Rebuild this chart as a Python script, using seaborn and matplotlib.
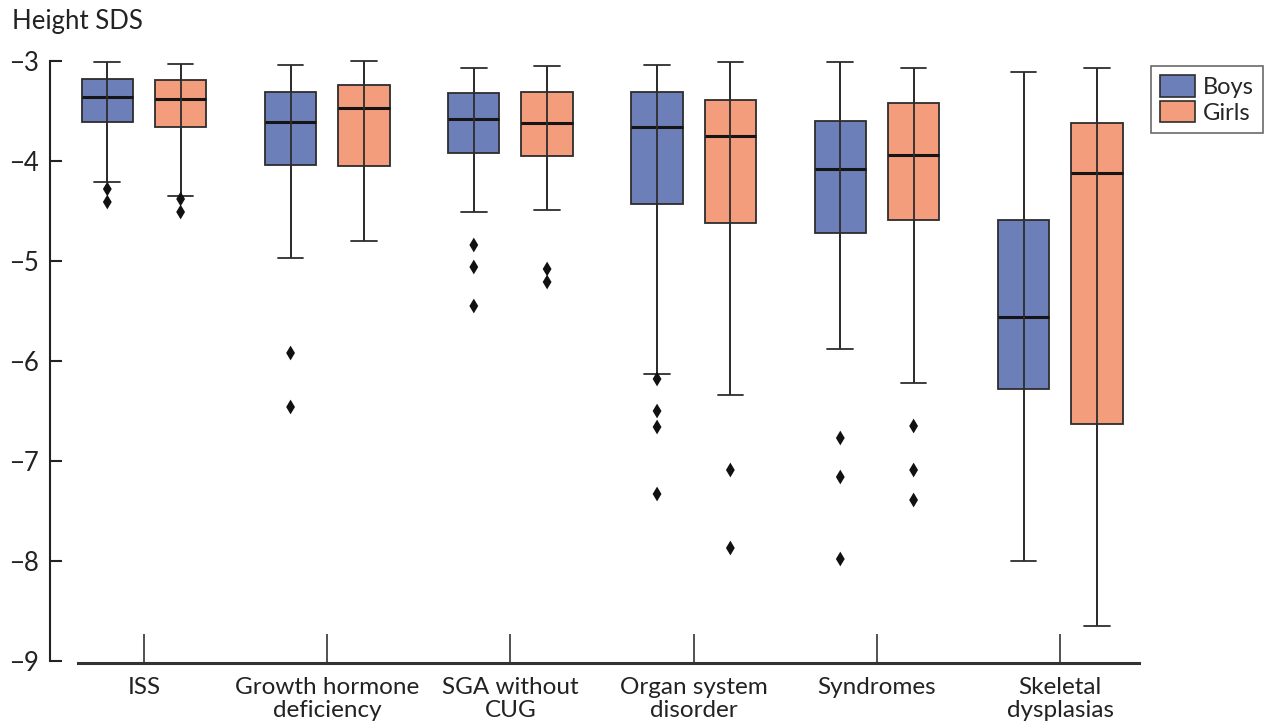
import numpy as np
import pandas as pd
import matplotlib
matplotlib.use("Agg")
import matplotlib.pyplot as plt
from matplotlib.patches import Patch
import seaborn as sns

# ---------------- data ----------------
categories = ["ISS", "Growth hormone\ndeficiency", "SGA without\nCUG",
              "Organ system\ndisorder", "Syndromes", "Skeletal\ndysplasias"]
sexes = ["Boys", "Girls"]

boys_lo  = [-4.21, -4.97, -4.51, -6.13, -5.88, -8.00]
boys_q1  = [-3.61, -4.04, -3.92, -4.43, -4.72, -6.28]
boys_med = [-3.36, -3.61, -3.58, -3.66, -4.08, -5.56]
boys_q3  = [-3.18, -3.31, -3.32, -3.31, -3.60, -4.59]
boys_hi  = [-3.01, -3.04, -3.07, -3.04, -3.01, -3.11]

girls_lo  = [-4.35, -4.80, -4.49, -6.34, -6.22, -8.65]
girls_q1  = [-3.66, -4.05, -3.95, -4.62, -4.59, -6.63]
girls_med = [-3.38, -3.47, -3.62, -3.75, -3.94, -4.12]
girls_q3  = [-3.19, -3.24, -3.31, -3.39, -3.42, -3.62]
girls_hi  = [-3.03, -3.00, -3.05, -3.01, -3.07, -3.07]

boys_fliers = [[-4.28, -4.41], [-5.92, -6.46], [-4.84, -5.06, -5.45],
               [-6.18, -6.50, -6.66, -7.33], [-6.77, -7.16, -7.98], []]
girls_fliers = [[-4.38, -4.51], [], [-5.08, -5.21],
                [-7.09, -7.87], [-6.65, -7.09, -7.39], []]

colors = {"Boys": "#6c7fb9", "Girls": "#f39d7d"}
edge = "#2d2d2d"

# ---------------- build tables ----------------
summ = {"Boys": (boys_lo, boys_q1, boys_med, boys_q3, boys_hi),
        "Girls": (girls_lo, girls_q1, girls_med, girls_q3, girls_hi)}
rows = []
for sex, arrs in summ.items():
    for i, cat in enumerate(categories):
        for arr in arrs:
            rows.append({"cat": cat, "sex": sex, "val": arr[i]})
box_df = pd.DataFrame(rows)

frows = []
for sex, fl in (("Boys", boys_fliers), ("Girls", girls_fliers)):
    for cat, vals in zip(categories, fl):
        for v in vals:
            frows.append({"cat": cat, "sex": sex, "val": v})
flier_df = pd.DataFrame(frows)

# ---------------- plot ----------------
sns.set_theme(style="ticks")
plt.rcParams["font.family"] = ["Lato", "DejaVu Sans"]

fig = plt.figure(figsize=(12.66, 7.27), dpi=100)
ax = fig.add_axes([78 / 1266, 1 - 663 / 727, (1139 - 78) / 1266, (663 - 55) / 727])

sns.boxplot(data=box_df, x="cat", y="val", hue="sex", order=categories,
            hue_order=sexes, palette=colors, saturation=1, whis=(0, 100),
            width=0.8, gap=0.3, linewidth=1.3, linecolor=edge,
            showfliers=False, legend=False, ax=ax,
            medianprops=dict(color="#151515", linewidth=2.2))

# vertical line running through each box from whisker end to whisker end
offsets = {"Boys": -0.2, "Girls": 0.2}
for sex, arrs in summ.items():
    xs = np.arange(len(categories)) + offsets[sex]
    ax.vlines(xs, arrs[0], arrs[4], color=edge, linewidth=1.3, zorder=2.5)

sns.stripplot(data=flier_df, x="cat", y="val", hue="sex", order=categories,
              hue_order=sexes, dodge=True, jitter=False, marker="d", size=7.5,
              palette={"Boys": "#111111", "Girls": "#111111"}, linewidth=0,
              legend=False, ax=ax, zorder=3)

ax.set_xlim(-0.36, 5.43)
ax.set_ylim(-9.02, -2.94)
ax.set_yticks([-3, -4, -5, -6, -7, -8, -9])
ax.set_xlabel("")
ax.set_ylabel("")

sns.despine(ax=ax)
ax.spines["left"].set_position(("outward", 20))
ax.spines["left"].set_bounds(-9, -3)
ax.spines["left"].set_linewidth(1.5)
ax.spines["left"].set_color("#222222")
ax.spines["bottom"].set_linewidth(2.2)
ax.spines["bottom"].set_color("#333333")

ax.tick_params(axis="y", direction="in", length=8.5, width=1.5, color="#222222",
               pad=8, labelsize=18.5, labelcolor="#222222")
ax.tick_params(axis="x", direction="in", length=21, width=1.2, color="#333333",
               pad=10, labelsize=17.5, labelcolor="#222222")
for lab in ax.get_xticklabels():
    lab.set_linespacing(1.12)

fig.text(12 / 1266, 1 - 22 / 727, "Height SDS", fontsize=18.5, color="#222222",
         va="center", ha="left")

handles = [Patch(facecolor=colors[s], edgecolor=edge, linewidth=1.2, label=s)
           for s in sexes]
leg = fig.legend(handles=handles, loc="upper left",
                 bbox_to_anchor=(1151 / 1266, 1 - 66 / 727),
                 frameon=True, fancybox=False, fontsize=17,
                 handlelength=1.45, handleheight=1.0, handletextpad=0.35,
                 labelspacing=0.12, borderpad=0.4, borderaxespad=0)
leg.get_frame().set_edgecolor("#444444")
leg.get_frame().set_linewidth(1.2)

fig.savefig("out.png", dpi=100)
